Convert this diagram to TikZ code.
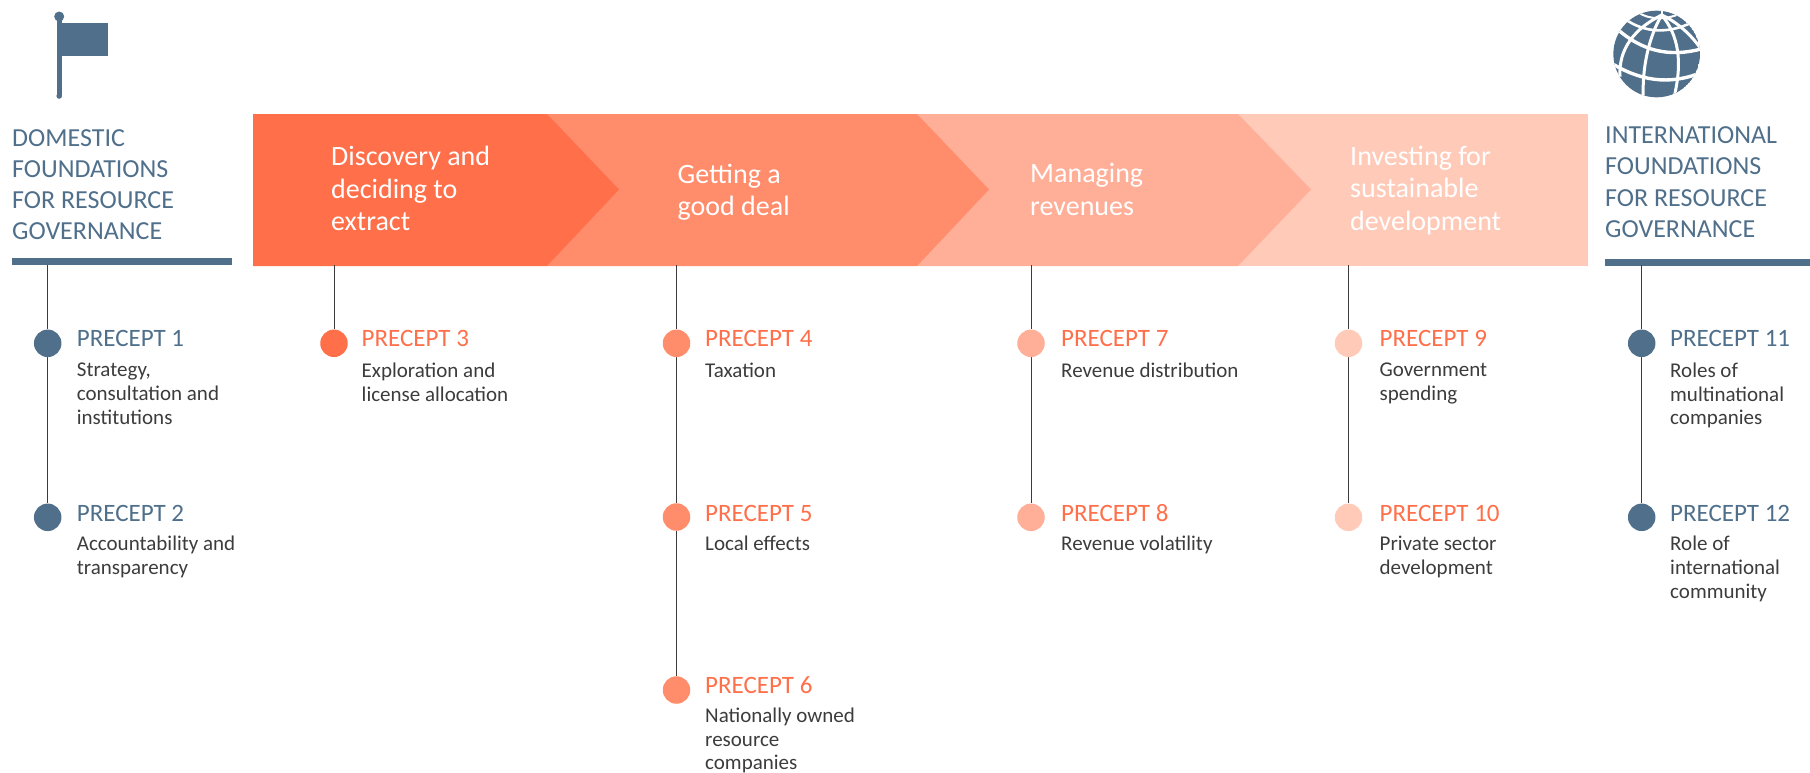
\documentclass[tikz,border=0pt]{standalone}
\usepackage{fontspec}
\setmainfont{Carlito}
\usetikzlibrary{backgrounds}
\pgfdeclarelayer{edgelayer}
\pgfdeclarelayer{nodelayer}
\pgfsetlayers{edgelayer,nodelayer,main}
\definecolor{slate}{HTML}{4F6F8A}
\definecolor{ember}{HTML}{FF6F4A}
\definecolor{coral}{HTML}{FF8C6B}
\definecolor{salmon}{HTML}{FFAE98}
\definecolor{blush}{HTML}{FFCAB8}
\definecolor{inktext}{HTML}{3C3C3C}
\tikzstyle{none}=[inner sep=0pt]
\tikzstyle{stem}=[line width=1pt,draw=inktext]
\tikzstyle{dot}=[circle,inner sep=0pt,minimum size=27.5pt]
\tikzstyle{heading}=[anchor=north west,inner sep=0pt,align=left,text=slate,font=\fontsize{26}{31.3}\selectfont,execute at begin node=\strut]
\tikzstyle{stage}=[anchor=north west,inner sep=0pt,align=left,text=white,font=\fontsize{28}{32.4}\selectfont,execute at begin node=\strut]
\tikzstyle{tag}=[anchor=base west,inner sep=0pt,font=\fontsize{25}{28}\selectfont]
\tikzstyle{body}=[anchor=north west,inner sep=0pt,align=left,text=inktext,font=\fontsize{21}{23.6}\selectfont,execute at begin node=\strut]
\begin{document}
\begin{tikzpicture}[x=1pt,y=-1pt]
	\useasboundingbox (0,0) rectangle (1810,772);
	\begin{pgfonlayer}{nodelayer}
		% top ends of the stems
		\node [style=none] (0) at (47.7, 265) {};
		\node [style=none] (1) at (334, 265) {};
		\node [style=none] (2) at (676.5, 265) {};
		\node [style=none] (3) at (1031, 265) {};
		\node [style=none] (4) at (1348.5, 265) {};
		\node [style=none] (5) at (1641.7, 265) {};
		% dots
		\node [style=dot,fill=slate] (p1) at (47.7, 343.3) {};
		\node [style=dot,fill=slate] (p2) at (47.7, 517.3) {};
		\node [style=dot,fill=ember] (p3) at (334, 343.3) {};
		\node [style=dot,fill=coral] (p4) at (676.5, 343.3) {};
		\node [style=dot,fill=coral] (p5) at (676.5, 517) {};
		\node [style=dot,fill=coral] (p6) at (676.5, 690) {};
		\node [style=dot,fill=salmon] (p7) at (1031, 343.3) {};
		\node [style=dot,fill=salmon] (p8) at (1031, 517.3) {};
		\node [style=dot,fill=blush] (p9) at (1348.5, 343.3) {};
		\node [style=dot,fill=blush] (p10) at (1348.5, 517.3) {};
		\node [style=dot,fill=slate] (p11) at (1641.7, 343.3) {};
		\node [style=dot,fill=slate] (p12) at (1641.7, 517.3) {};
		% headings
		\node [style=heading] (h1) at (12, 129) {DOMESTIC\\FOUNDATIONS\\FOR RESOURCE\\GOVERNANCE};
		\node [style=heading] (h2) at (1605, 126.5) {INTERNATIONAL\\FOUNDATIONS\\FOR RESOURCE\\GOVERNANCE};
		% stages
		\node [style=stage] (s1) at (331, 146) {Discovery and\\deciding to\\extract};
		\node [style=stage] (s2) at (677.5, 163.5) {Getting a\\good deal};
		\node [style=stage] (s3) at (1030, 163.5) {Managing\\revenues};
		\node [style=stage] (s4) at (1350, 146) {Investing for\\sustainable\\development};
		% precept tags
		\node [style=tag,text=slate] (t1) at (76.7, 346.5) {PRECEPT 1};
		\node [style=tag,text=slate] (t2) at (76.7, 521) {PRECEPT 2};
		\node [style=tag,text=ember] (t3) at (361.5, 346.5) {PRECEPT 3};
		\node [style=tag,text=ember] (t4) at (705, 346.5) {PRECEPT 4};
		\node [style=tag,text=ember] (t5) at (705, 521) {PRECEPT 5};
		\node [style=tag,text=ember] (t6) at (705, 693.5) {PRECEPT 6};
		\node [style=tag,text=ember] (t7) at (1061, 346.5) {PRECEPT 7};
		\node [style=tag,text=ember] (t8) at (1061, 521) {PRECEPT 8};
		\node [style=tag,text=ember] (t9) at (1379.5, 346.5) {PRECEPT 9};
		\node [style=tag,text=ember] (t10) at (1379.5, 521) {PRECEPT 10};
		\node [style=tag,text=slate] (t11) at (1670, 346.5) {PRECEPT 11};
		\node [style=tag,text=slate] (t12) at (1670, 521) {PRECEPT 12};
		% precept texts
		\node [style=body] (b1) at (76.7, 363) {Strategy,\\consultation and\\institutions};
		\node [style=body] (b2) at (76.7, 536.2) {Accountability and\\transparency};
		\node [style=body] (b3) at (361.5, 363) {Exploration and\\license allocation};
		\node [style=body] (b4) at (705, 360.4) {Taxation};
		\node [style=body] (b5) at (705, 533.7) {Local effects};
		\node [style=body] (b6) at (705, 708) {Nationally owned\\resource\\companies};
		\node [style=body] (b7) at (1061, 360.4) {Revenue distribution};
		\node [style=body] (b8) at (1061, 533.7) {Revenue volatility};
		\node [style=body] (b9) at (1379.5, 363) {Government\\spending};
		\node [style=body] (b10) at (1379.5, 536.2) {Private sector\\development};
		\node [style=body] (b11) at (1670, 363) {Roles of\\multinational\\companies};
		\node [style=body] (b12) at (1670, 536.2) {Role of\\international\\community};
	\end{pgfonlayer}
	\begin{pgfonlayer}{edgelayer}
		% chevron band, last stage first
		\fill [blush] (1238, 114) -- (1588, 114) -- (1588, 266) -- (1238, 266) -- cycle;
		\fill [salmon] (917, 114) -- (1238, 114) -- (1311, 189.5) -- (1238, 266) -- (917, 266) -- cycle;
		\fill [coral] (547, 114) -- (917, 114) -- (989, 189.5) -- (917, 266) -- (547, 266) -- cycle;
		\fill [ember] (253, 114) -- (547, 114) -- (619, 189.5) -- (547, 266) -- (253, 266) -- cycle;
		% rules under the headings
		\fill [slate] (11.5, 257.5) rectangle (232, 265);
		\fill [slate] (1605, 258.5) rectangle (1810, 266);
		% stems
		\draw [style=stem] (0.center) to (p1);
		\draw [style=stem] (p1) to (p2);
		\draw [style=stem] (1.center) to (p3);
		\draw [style=stem] (2.center) to (p4);
		\draw [style=stem] (p4) to (p5);
		\draw [style=stem] (p5) to (p6);
		\draw [style=stem] (3.center) to (p7);
		\draw [style=stem] (p7) to (p8);
		\draw [style=stem] (4.center) to (p9);
		\draw [style=stem] (p9) to (p10);
		\draw [style=stem] (5.center) to (p11);
		\draw [style=stem] (p11) to (p12);
	\end{pgfonlayer}
	% flag
	\fill [slate] (56.5, 20) rectangle (62, 96);
	\fill [slate] (59.2, 96) circle (2.8);
	\fill [slate] (59.2, 16.5) circle (5);
	\fill [slate] (60, 23) rectangle (107.5, 55.5);
	% globe
	\begin{scope}[shift={(1605,5)},scale=1/3]
		\begin{scope}
			\clip (155, 147) circle (130);
			\fill [slate] (155, 147) circle (130);
			\draw [white,line width=3.4pt] (15, 172) .. controls (100, 225) and (190, 245) .. (295, 200);
			\draw [white,line width=3.4pt] (40, 75) .. controls (110, 135) and (190, 160) .. (295, 130);
			\draw [white,line width=2.6pt] (60, 42) .. controls (120, 85) and (190, 85) .. (255, 55);
			\draw [white,line width=2pt] (100, 22) .. controls (130, 45) and (190, 45) .. (225, 25);
			\draw [white,line width=3pt] (170, 30) .. controls (90, 70) and (40, 130) .. (45, 215);
			\draw [white,line width=3pt] (170, 30) .. controls (135, 90) and (110, 180) .. (115, 285);
			\draw [white,line width=3pt] (170, 30) .. controls (220, 90) and (235, 170) .. (205, 285);
			\draw [white,line width=3pt] (170, 30) .. controls (215, 50) and (260, 90) .. (290, 135);
			\draw [white,line width=2pt] (170, 30) -- (170, 5);
		\end{scope}
	\end{scope}
\end{tikzpicture}
\end{document}
